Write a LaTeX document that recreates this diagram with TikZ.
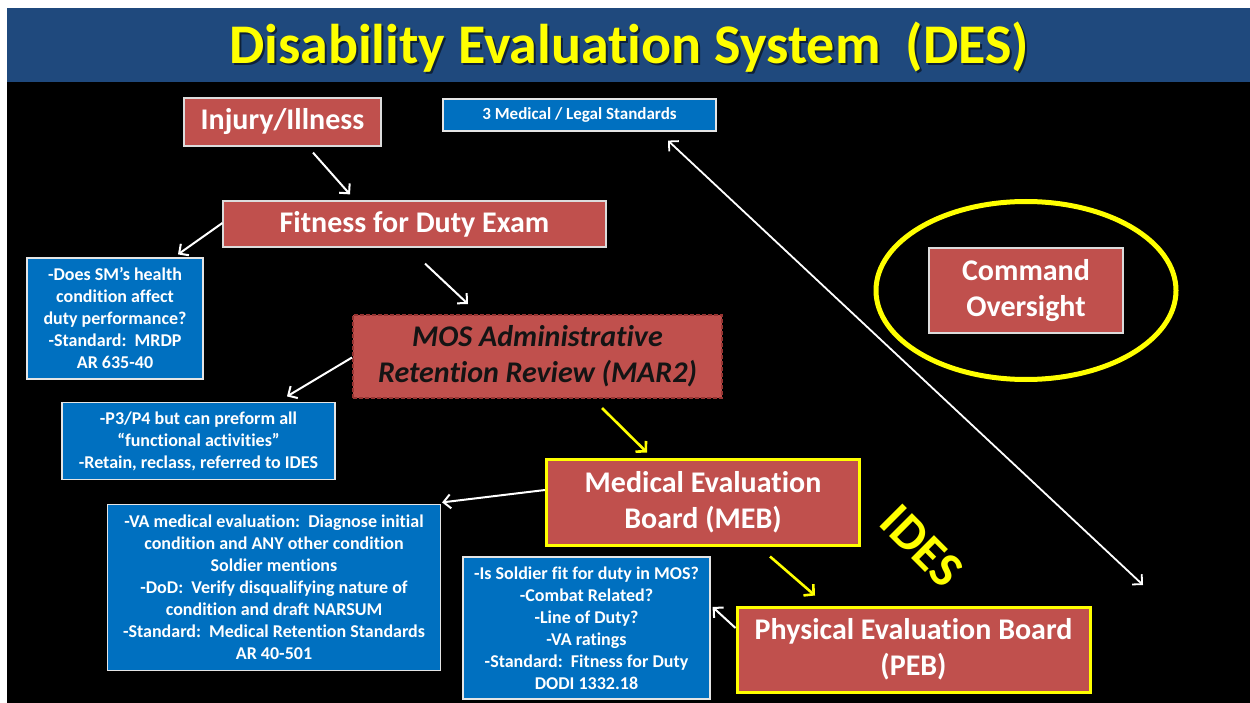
\documentclass[tikz,border=0pt]{standalone}
\usepackage{fontspec}
\setmainfont{Carlito}[Ligatures={NoCommon}]
\usetikzlibrary{arrows.meta,calc}
\definecolor{titleblue}{RGB}{31,73,125}
\definecolor{boxred}{RGB}{192,80,77}
\definecolor{boxblue}{RGB}{0,112,192}
\definecolor{edgered}{RGB}{150,52,50}
\definecolor{edgegray}{RGB}{220,220,220}
\definecolor{hiyellow}{RGB}{255,255,0}
\begin{document}
\begin{tikzpicture}[x=1pt,y=-1pt,
  redbox/.style={fill=boxred, draw=edgegray, line width=1.2pt, text=white, inner sep=0pt,
    align=center, font=\bfseries\fontsize{30}{36}\selectfont},
  goldbox/.style={redbox, draw=hiyellow, line width=3pt},
  dashbox/.style={redbox, draw=edgered, line width=2pt, dash pattern=on 4pt off 2pt,
    text={rgb,255:red,20;green,20;blue,20}, font=\bfseries\itshape\fontsize{30}{36}\selectfont},
  bluebox/.style={fill=boxblue, draw=white!90!black, line width=1.2pt, text=white, inner sep=0pt,
    align=center, font=\bfseries\fontsize{18}{22}\selectfont},
  flow/.style={draw=white, line width=2pt, -{Straight Barb[length=7pt,width=14pt,line width=2pt]}},
  hiflow/.style={draw=hiyellow, line width=2.6pt, -{Straight Barb[length=7pt,width=15pt,line width=2.6pt]}},
  link/.style={draw=white, line width=1.8pt,
    {Straight Barb[length=7pt,width=14pt,line width=1.8pt]}-{Straight Barb[length=7pt,width=14pt,line width=1.8pt]}}
]
\useasboundingbox (0,0) rectangle (1250,703);
\fill[white] (0,0) rectangle (1250,703);
\fill[black] (7,82) rectangle (1250,703);
\fill[titleblue] (7,8) rectangle (1250,82);

% title with a soft drop shadow
\node[anchor=base, text=black, opacity=0.55, font=\bfseries\fontsize{56}{60}\selectfont]
  (titleshadow) at (631,65.5) {Disability Evaluation System\ \ (DES)};
\node[anchor=base, text=hiyellow, font=\bfseries\fontsize{56}{60}\selectfont]
  (title) at (629,63.5) {Disability Evaluation System\ \ (DES)};

% process boxes
\node[redbox, minimum width=197pt, minimum height=48pt] (inj) at (282.5,122) {Injury/Illness};
\node[redbox, minimum width=383pt, minimum height=46pt] (fit) at (414.5,224) {Fitness for Duty Exam};
\node[dashbox, minimum width=369pt, minimum height=83pt] (mos) at (537.5,356.5)
  {MOS Administrative\\Retention Review (MAR2)};
\node[goldbox, minimum width=313pt, minimum height=86pt] (meb) at (703,502)
  {Medical Evaluation\\Board (MEB)};
\node[goldbox, minimum width=353pt, minimum height=85pt] (peb) at (913.5,649.5)
  {Physical Evaluation Board\\(PEB)};
\node[redbox, minimum width=194pt, minimum height=85pt] (cmd) at (1026,290.5)
  {Command\\Oversight};
\draw[hiyellow, line width=5pt] (cmd.center) ellipse [x radius=150pt, y radius=89pt];

% standards / notes
\node[bluebox, minimum width=273pt, minimum height=32pt, font=\bfseries\fontsize{17}{20}\selectfont]
  (std) at (579.5,115) {3 Medical / Legal Standards};
\node[bluebox, minimum width=176pt, minimum height=121pt] (sm) at (115,318.5)
  {-Does SM’s health\\condition affect\\duty performance?\\-Standard:\ \ MRDP\\AR 635-40};
\node[bluebox, minimum width=273pt, minimum height=77pt] (p3) at (198.5,441)
  {-P3/P4 but can preform all\\“functional activities”\\-Retain, reclass, referred to IDES};
\node[bluebox, minimum width=333pt, minimum height=166pt] (va) at (274,587.5)
  {-VA medical evaluation:\ \ Diagnose initial\\condition and ANY other condition\\Soldier mentions\\
   -DoD:\ \ Verify disqualifying nature of\\condition and draft NARSUM\\
   -Standard:\ \ Medical Retention Standards\\AR 40-501};
\node[bluebox, minimum width=247pt, minimum height=142pt] (iss) at (586.5,628)
  {-Is Soldier fit for duty in MOS?\\-Combat Related?\\-Line of Duty?\\-VA ratings\\
   -Standard:\ \ Fitness for Duty\\DODI 1332.18};

\node[text=hiyellow, rotate=-45, inner sep=0pt, font=\bfseries\fontsize{50}{54}\selectfont]
  (ides) at (922,546) {IDES};

% connectors
\draw[flow] ($(inj.south)+(30.5,6)$) -- ($(fit.north)+(-64.5,-6)$);
\draw[flow] ($(fit.west)+(0,-1)$) -- ($(sm.north)+(63,-3)$);
\draw[flow] ($(fit.south)+(10.5,16)$) -- ($(mos.north)+(-69.5,-10)$);
\draw[flow] ($(mos.west)+(0,1)$) -- ($(p3.north)+(88.5,-5.5)$);
\draw[hiflow] ($(mos.south)+(64.5,9)$) -- ($(meb.north)+(-56,-5)$);
\draw[flow] ($(meb.west)+(0,-12)$) -- ($(va.north east)+(1,-1.5)$);
\draw[hiflow] ($(meb.south)+(67,10)$) -- ($(peb.north)+(-98.5,-10)$);
\draw[flow] ($(peb.west)+(0,-21.5)$) -- ($(iss.east)+(2,-21)$);
\coordinate (oversightend) at (1143,585);
\draw[link] ($(std.south)+(88.5,9)$) -- (oversightend);
\end{tikzpicture}
\end{document}
